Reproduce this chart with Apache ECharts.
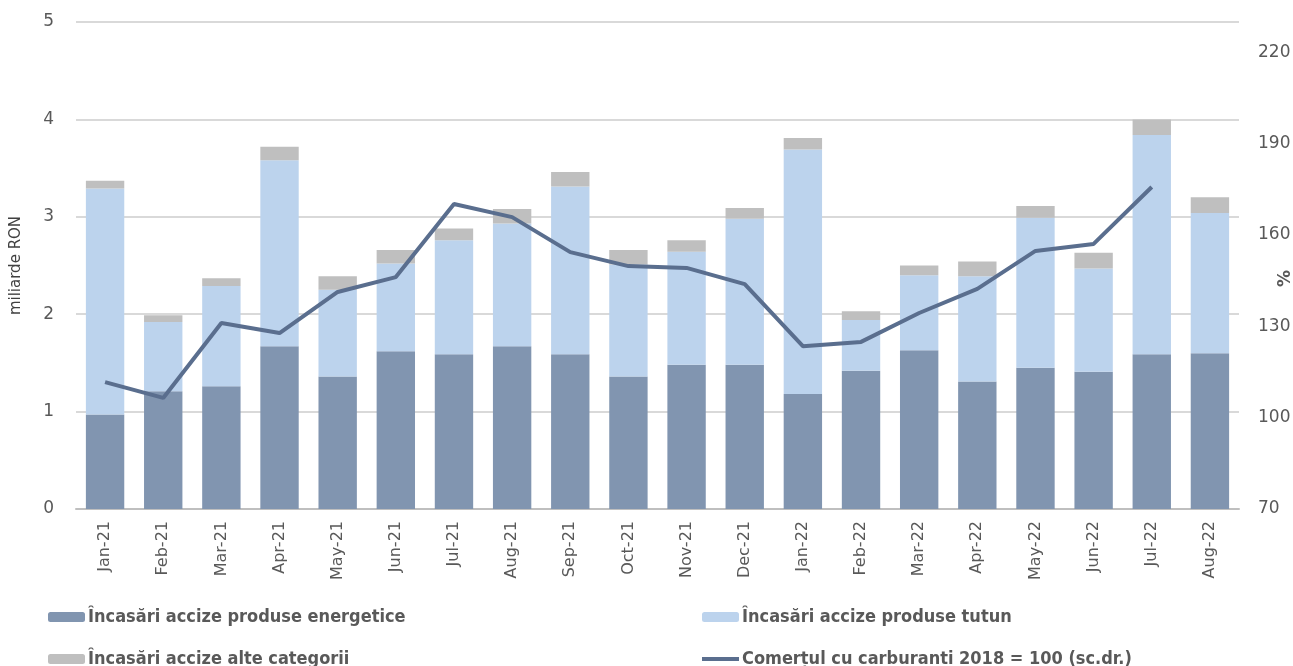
<!DOCTYPE html>
<html>
<head>
<meta charset="utf-8">
<script src="https://cdn.jsdelivr.net/npm/echarts@6/dist/echarts.min.js"></script>
<style>
html,body{margin:0;padding:0;background:#fff;}
#c{width:1293px;height:666px;}
</style>
</head>
<body>
<div id="c"></div>
<script>
const categories = ["Jan-21","Feb-21","Mar-21","Apr-21","May-21","Jun-21","Jul-21","Aug-21","Sep-21","Oct-21","Nov-21","Dec-21","Jan-22","Feb-22","Mar-22","Apr-22","May-22","Jun-22","Jul-22","Aug-22"];
const energetice = [0.97,1.21,1.26,1.67,1.36,1.62,1.59,1.67,1.59,1.36,1.48,1.48,1.18,1.42,1.63,1.31,1.45,1.41,1.59,1.60];
const tutun = [2.32,0.71,1.03,1.91,0.89,0.90,1.17,1.26,1.72,1.15,1.16,1.50,2.51,0.52,0.77,1.08,1.54,1.06,2.25,1.44];
const alte = [0.08,0.07,0.08,0.14,0.14,0.14,0.12,0.15,0.15,0.15,0.12,0.11,0.12,0.09,0.10,0.15,0.12,0.16,0.16,0.16];
const carburanti = [111.7,106.5,131.1,127.8,141.3,146.2,170.2,165.9,154.4,149.8,149.2,143.9,123.5,124.9,134.4,142.3,154.8,157.1,175.8,null];
const leftTicks = {min:0,max:5,interval:1};
const rightTicks = {min:70,max:230,interval:30};
const names = ['Încasări accize produse energetice','Încasări accize produse tutun','Încasări accize alte categorii','Comerțul cu carburanti 2018 = 100 (sc.dr.)'];

const txt = '#595959';
const font = 'DejaVu Sans';
const legTxt = {fontFamily:'DejaVu Sans Condensed, DejaVu Sans',fontWeight:'bold',fontSize:18,color:txt};
function leg(name,left,top,h,icon){
  return {left:left,top:top,orient:'horizontal',itemWidth:37,itemHeight:h,itemGap:4,
    data:[icon?{name:name,icon:icon}:name],textStyle:Object.assign({padding:[0,0,0,-2]},legTxt)};
}
const chart = echarts.init(document.getElementById('c'));
chart.setOption({
  animation:false,
  grid:{left:76,right:54,top:22,bottom:157,outerBoundsMode:'none',containLabel:false},
  legend:[
    leg(names[0],43,603,10),
    leg(names[2],43,645,10),
    leg(names[1],697,603,10),
    leg(names[3],697,645,4,'rect')
  ],
  xAxis:{type:'category',data:categories,
    axisLine:{lineStyle:{color:'#bfbfbf',width:2}},axisTick:{show:false},
    axisLabel:{rotate:90,fontFamily:font,fontSize:16,color:txt,margin:12,interval:0}},
  yAxis:[
    {type:'value',min:leftTicks.min,max:leftTicks.max,interval:leftTicks.interval,
     name:'miliarde RON',nameLocation:'middle',nameRotate:90,nameGap:52,nameMoveOverlap:false,
     nameTextStyle:{fontFamily:font,fontSize:15,color:'#404040'},
     axisLine:{show:false},axisTick:{show:false},
     axisLabel:{fontFamily:font,fontSize:17,color:txt,margin:22},
     splitLine:{lineStyle:{color:'#d9d9d9',width:2}}},
    {type:'value',min:rightTicks.min,max:rightTicks.max,interval:rightTicks.interval,position:'right',
     name:'%',nameLocation:'middle',nameRotate:90,nameGap:38,nameMoveOverlap:false,
     nameTextStyle:{fontFamily:font,fontSize:17,fontWeight:'bold',color:txt,padding:[0,26,0,0]},
     axisLine:{show:false},axisTick:{show:false},
     axisLabel:{fontFamily:font,fontSize:17,color:txt,margin:19,showMaxLabel:false},
     splitLine:{show:false}}
  ],
  series:[
    {name:names[0],type:'bar',stack:'a',data:energetice,barWidth:'66%',itemStyle:{color:'#8195b0'}},
    {name:names[1],type:'bar',stack:'a',data:tutun,itemStyle:{color:'#bcd3ed'}},
    {name:names[2],type:'bar',stack:'a',data:alte,itemStyle:{color:'#bfbfbf'}},
    {name:names[3],type:'line',yAxisIndex:1,data:carburanti,
     symbol:'none',lineStyle:{color:'#5a6e8e',width:4},itemStyle:{color:'#5a6e8e'}}
  ]
});
</script>
</body>
</html>
